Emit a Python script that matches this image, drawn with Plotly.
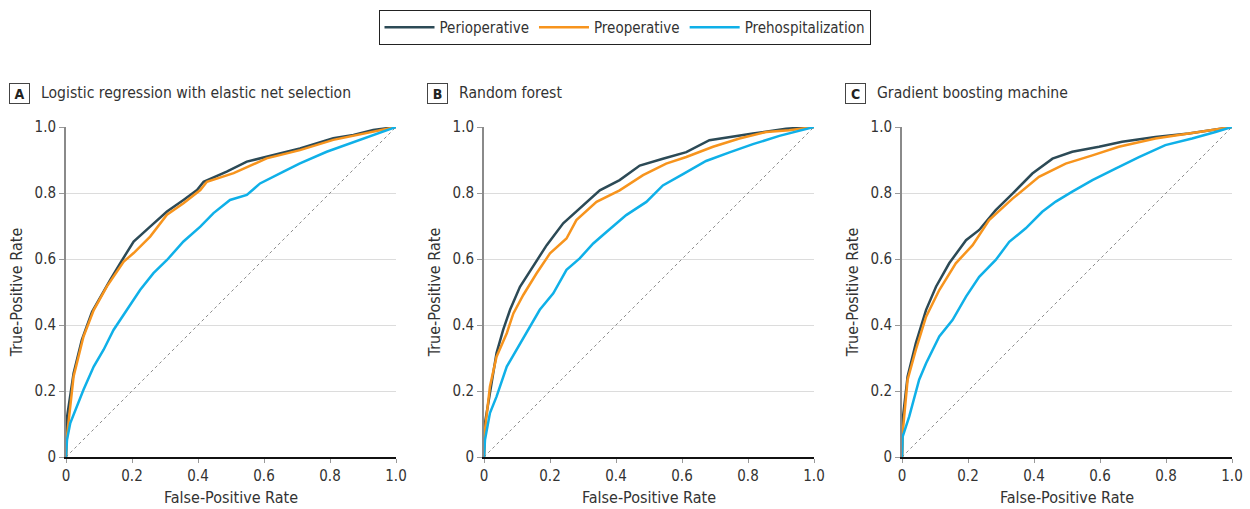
import plotly.graph_objects as go

# ---------------- data ----------------
series_names = ["Perioperative", "Preoperative", "Prehospitalization"]
series_colors = ["#2c4a56", "#f7941d", "#0fb0e8"]

panel_letters = ["A", "B", "C"]
panel_titles = ["Logistic regression with elastic net selection", "Random forest", "Gradient boosting machine"]

# Panel A
a_peri_fpr = [0, 0.003, 0.023, 0.048, 0.079, 0.104, 0.134, 0.164, 0.205, 0.255, 0.306, 0.356, 0.397, 0.417, 0.487, 0.548, 0.608, 0.709, 0.81, 0.871, 0.931, 1.0]
a_peri_tpr = [0, 0.12, 0.254, 0.355, 0.44, 0.486, 0.537, 0.587, 0.653, 0.698, 0.744, 0.779, 0.809, 0.834, 0.865, 0.895, 0.910, 0.935, 0.966, 0.976, 0.991, 1.0]
a_pre_fpr = [0, 0.003, 0.023, 0.053, 0.084, 0.124, 0.175, 0.205, 0.255, 0.306, 0.356, 0.407, 0.427, 0.508, 0.608, 0.709, 0.81, 0.911, 1.0]
a_pre_tpr = [0, 0.063, 0.244, 0.365, 0.445, 0.517, 0.592, 0.618, 0.668, 0.734, 0.769, 0.809, 0.834, 0.86, 0.905, 0.930, 0.961, 0.981, 1.0]
a_hosp_fpr = [0, 0.003, 0.013, 0.033, 0.053, 0.084, 0.114, 0.144, 0.185, 0.225, 0.265, 0.306, 0.356, 0.407, 0.447, 0.497, 0.548, 0.588, 0.659, 0.709, 0.79, 0.861, 0.931, 1.0]
a_hosp_tpr = [0, 0.052, 0.103, 0.153, 0.204, 0.274, 0.325, 0.385, 0.446, 0.507, 0.557, 0.597, 0.653, 0.698, 0.739, 0.779, 0.794, 0.829, 0.865, 0.890, 0.925, 0.951, 0.976, 1.0]

# Panel B
b_peri_fpr = [0, 0.003, 0.018, 0.038, 0.058, 0.079, 0.109, 0.149, 0.19, 0.24, 0.29, 0.351, 0.411, 0.472, 0.542, 0.613, 0.683, 0.754, 0.815, 0.915, 1.0]
b_peri_tpr = [0, 0.103, 0.194, 0.315, 0.385, 0.446, 0.516, 0.577, 0.642, 0.708, 0.753, 0.808, 0.839, 0.883, 0.904, 0.924, 0.960, 0.970, 0.980, 0.995, 1.0]
b_pre_fpr = [0, 0.003, 0.018, 0.038, 0.069, 0.089, 0.119, 0.159, 0.2, 0.25, 0.28, 0.341, 0.411, 0.482, 0.552, 0.613, 0.694, 0.774, 0.855, 0.925, 1.0]
b_pre_tpr = [0, 0.083, 0.214, 0.304, 0.375, 0.435, 0.491, 0.556, 0.617, 0.662, 0.718, 0.773, 0.808, 0.854, 0.889, 0.909, 0.940, 0.965, 0.985, 0.990, 1.0]
b_hosp_fpr = [0, 0.003, 0.018, 0.038, 0.069, 0.099, 0.129, 0.169, 0.21, 0.25, 0.29, 0.331, 0.371, 0.431, 0.492, 0.542, 0.603, 0.673, 0.744, 0.815, 0.895, 1.0]
b_hosp_tpr = [0, 0.052, 0.133, 0.183, 0.274, 0.325, 0.375, 0.446, 0.496, 0.567, 0.602, 0.647, 0.682, 0.733, 0.773, 0.823, 0.857, 0.897, 0.923, 0.948, 0.973, 1.0]

# Panel C
c_peri_fpr = [0, 0.002, 0.017, 0.042, 0.073, 0.103, 0.143, 0.194, 0.234, 0.284, 0.335, 0.395, 0.456, 0.516, 0.597, 0.667, 0.768, 0.869, 1.0]
c_peri_tpr = [0, 0.113, 0.244, 0.345, 0.446, 0.516, 0.587, 0.657, 0.688, 0.748, 0.798, 0.859, 0.904, 0.925, 0.940, 0.955, 0.970, 0.980, 1.0]
c_pre_fpr = [0, 0.002, 0.017, 0.042, 0.073, 0.113, 0.163, 0.214, 0.264, 0.335, 0.415, 0.496, 0.577, 0.657, 0.768, 0.869, 1.0]
c_pre_tpr = [0, 0.073, 0.234, 0.325, 0.425, 0.506, 0.587, 0.642, 0.718, 0.783, 0.849, 0.889, 0.914, 0.940, 0.965, 0.980, 1.0]
c_hosp_fpr = [0, 0.002, 0.022, 0.052, 0.073, 0.113, 0.153, 0.194, 0.234, 0.284, 0.325, 0.375, 0.425, 0.466, 0.516, 0.577, 0.647, 0.718, 0.798, 0.879, 0.950, 1.0]
c_hosp_tpr = [0, 0.062, 0.123, 0.234, 0.284, 0.365, 0.415, 0.486, 0.546, 0.597, 0.652, 0.693, 0.743, 0.774, 0.804, 0.839, 0.874, 0.909, 0.945, 0.965, 0.985, 1.0]

diag = [0, 1]
tick_vals = [0, 0.2, 0.4, 0.6, 0.8, 1.0]
tick_text = ["0", "0.2", "0.4", "0.6", "0.8", "1.0"]

panels = [
    [(a_peri_fpr, a_peri_tpr), (a_pre_fpr, a_pre_tpr), (a_hosp_fpr, a_hosp_tpr)],
    [(b_peri_fpr, b_peri_tpr), (b_pre_fpr, b_pre_tpr), (b_hosp_fpr, b_hosp_tpr)],
    [(c_peri_fpr, c_peri_tpr), (c_pre_fpr, c_pre_tpr), (c_hosp_fpr, c_hosp_tpr)],
]

# ---------------- layout ----------------
W, H = 1250, 509
FONT = "DejaVu Sans Condensed, DejaVu Sans, sans-serif"
x_left_px = [66, 484, 902]
plot_w = 330
y_top_px, y_bot_px = 127, 457
TXT = "#333333"

fig = go.Figure()
layout = dict(
    width=W, height=H,
    margin=dict(l=0, r=0, t=0, b=0),
    paper_bgcolor="white", plot_bgcolor="white",
    font=dict(family=FONT, size=15, color=TXT),
    showlegend=True,
    legend=dict(orientation="h", x=0.4996, xanchor="center", y=1 - 10 / H, yanchor="top",
                bordercolor="#222222", borderwidth=1, font=dict(size=15, color=TXT),
                itemwidth=50, tracegroupgap=0),
    annotations=[],
)

for i in range(3):
    suffix = "" if i == 0 else str(i + 1)
    xa = "x" + suffix
    ya = "y" + suffix
    fig.add_trace(go.Scatter(x=diag, y=diag, mode="lines", xaxis=xa, yaxis=ya,
                             line=dict(color="#8c8c8c", width=1, dash="dot"),
                             showlegend=False, hoverinfo="skip"))
    for j, (fx, ty) in enumerate(panels[i]):
        fig.add_trace(go.Scatter(x=fx, y=ty, mode="lines", xaxis=xa, yaxis=ya,
                                 name=series_names[j],
                                 line=dict(color=series_colors[j], width=2.5),
                                 showlegend=(i == 0)))
    x0 = x_left_px[i] / W
    x1 = (x_left_px[i] + plot_w) / W
    layout["xaxis" + suffix] = dict(
        domain=[x0, x1], range=[0, 1], anchor=ya,
        tickvals=tick_vals, ticktext=tick_text,
        showgrid=False, zeroline=False,
        showline=True, linecolor="#111111", linewidth=1.5,
        ticks="outside", ticklen=4, tickcolor="#999999", tickwidth=1,
        tickfont=dict(size=15, color=TXT),
        title=dict(text="False-Positive Rate", font=dict(size=16, color=TXT), standoff=8),
        automargin=False, fixedrange=True,
    )
    layout["yaxis" + suffix] = dict(
        domain=[(H - y_bot_px) / H, (H - y_top_px) / H], range=[0, 1], anchor=xa,
        tickvals=tick_vals, ticktext=tick_text,
        showgrid=True, gridcolor="#dcdcdc", gridwidth=1, zeroline=False,
        showline=True, linecolor="#8a8a8a", linewidth=2,
        ticks="outside", ticklen=5, tickcolor="#999999", tickwidth=1,
        tickfont=dict(size=15, color=TXT),
        title=dict(text="True-Positive Rate", font=dict(size=16, color=TXT), standoff=8),
        automargin=False, fixedrange=True,
    )
    layout["annotations"].append(dict(
        xref="paper", yref="paper", x=(x_left_px[i] - 46.5) / W, y=1 - 93 / H,
        xanchor="center", yanchor="middle", showarrow=False,
        text="<b>" + panel_letters[i] + "</b>", font=dict(size=14, color="#222222"),
        bordercolor="#444444", borderwidth=1, borderpad=2, width=15, height=15,
    ))
    layout["annotations"].append(dict(
        xref="paper", yref="paper", x=(x_left_px[i] - 27) / W, y=1 - 93 / H,
        xanchor="left", yanchor="middle", showarrow=False,
        text=panel_titles[i], font=dict(size=15.6, color=TXT),
    ))

fig.update_layout(**layout)
fig.write_html("out.html", post_script="document.body.style.margin='0px';",
               config={"displayModeBar": False})
